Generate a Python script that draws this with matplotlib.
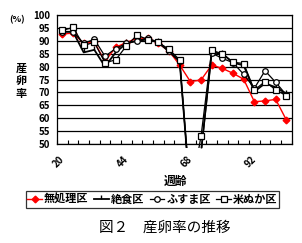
import numpy as np
import matplotlib
matplotlib.use("Agg")
import matplotlib.pyplot as plt
from matplotlib.patches import Rectangle

plt.rcParams['font.family'] = ['Noto Sans CJK JP', 'DejaVu Sans']

# weeks of age (category axis, every 4 weeks)
weeks = list(range(20, 105, 4))
tick_weeks = [20, 44, 68, 92]

# egg production rate (%)
mushori = [92.6, 93.0, 89.0, 89.5, 82.0, 87.5, 89.3, 91.0, 91.0, 89.0, 86.0,
           80.6, 74.2, 74.8, 80.6, 79.3, 77.4, 75.1, 66.4, 66.7, 67.3, 59.3]
zesshoku = [93.5, 93.5, 85.5, 86.5, 80.0, 85.5, 89.0, 90.0, 90.5, 89.4, 85.8,
            82.0, 30.0, 47.0, 85.5, 85.0, 81.5, 80.5, 70.3, 73.5, 72.0, 69.5]
fusuma = [93.5, 93.5, 89.0, 90.6, 84.0, 87.0, 89.0, 90.0, 91.0, 89.5, 86.2,
          82.0, 30.0, 46.0, 85.2, 83.2, 81.5, 77.0, 71.6, 78.4, 73.9, 69.0]
nuka = [94.0, 95.2, 88.2, 89.4, 81.5, 82.6, 88.0, 92.2, 90.5, 89.4, 86.7,
        82.6, 30.0, 53.0, 86.3, 85.0, 81.7, 81.2, 70.9, 74.2, 71.0, 68.7]

names = ['無処理区', '絶食区', 'ふすま区', '米ぬか区']

fig = plt.figure(figsize=(3.02, 2.43), dpi=100)
ax = fig.add_axes([57/302, 1-144/243, 234.7/302, 129/243])

x = np.arange(len(weeks))
clip = Rectangle((0, -0.03), 1, 1.03, transform=ax.transAxes, facecolor='none')

lines = []
lines += ax.plot(x, mushori, color='red', lw=1.0, marker='D', ms=3.4,
                 mfc='red', mec='red', label=names[0])
lines += ax.plot(x, zesshoku, color='black', lw=1.3, marker=2, ms=3,
                 mew=1.0, label=names[1])
lines += ax.plot(x, fusuma, color='black', lw=0.9, marker='o', ms=4,
                 mfc='white', mec='black', mew=0.9, label=names[2])
lines += ax.plot(x, nuka, color='black', lw=0.9, marker='s', ms=4.5,
                 mfc='white', mec='black', mew=0.9, label=names[3])
for ln in lines:
    ln.set_clip_path(clip)

ax.set_xlim(-0.5, len(weeks) - 0.5)
ax.set_ylim(50, 100)
ax.set_yticks(range(50, 101, 5))
ax.grid(axis='y', color='black', lw=0.9)
ax.set_axisbelow(True)
for s in ax.spines.values():
    s.set_linewidth(0.9)

ax.set_xticks([weeks.index(w) for w in tick_weeks])
ax.set_xticklabels([str(w) for w in tick_weeks])
ax.set_xticks(np.arange(-0.5, len(weeks)), minor=True)
ax.tick_params(axis='x', which='major', length=0, pad=10)
ax.tick_params(axis='x', which='minor', direction='in', length=3, width=0.8)
ax.tick_params(axis='y', length=0, pad=5)
for lb in ax.get_xticklabels():
    lb.set_rotation(45)
    lb.set_ha('right')
    lb.set_va('center')
    lb.set_rotation_mode('anchor')
    lb.set_fontsize(7)
    lb.set_fontweight('bold')
for lb in ax.get_yticklabels():
    lb.set_fontsize(7)
    lb.set_fontweight('bold')

fig.text(17/302, 1-20/243, '(%)', fontsize=6.5, fontweight='bold',
         ha='center', va='center')
fig.text(21.5/302, 1-80.5/243, '産\n卵\n率', fontsize=8, fontweight='bold',
         ha='center', va='center', linespacing=0.95)
fig.text(175/302, 1-181/243, '週齢', fontsize=8.5, fontweight='bold',
         ha='center', va='center')

leg = fig.legend(handles=lines, loc='center', ncol=4,
                 bbox_to_anchor=(152.5/302, 1-199.5/243),
                 prop={'size': 8, 'weight': 'bold'},
                 handlelength=1.3, handletextpad=0.2, columnspacing=0.5,
                 borderpad=0.15, borderaxespad=0, frameon=True, fancybox=False)
leg.get_frame().set_edgecolor('black')
leg.get_frame().set_linewidth(0.9)

fig.text(99/302, 1-228/243, '図２　産卵率の推移', fontsize=10.5,
         ha='left', va='center')

fig.savefig('out.png', dpi=100)
